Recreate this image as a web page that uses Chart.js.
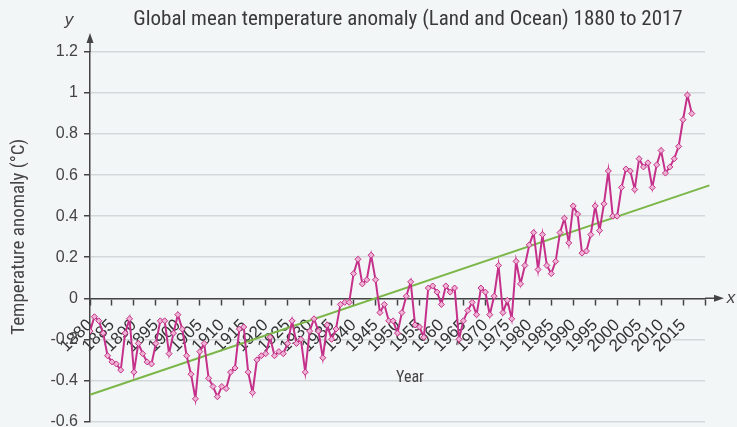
<!DOCTYPE html>
<html><head><meta charset="utf-8">
<script src="https://cdn.jsdelivr.net/npm/chart.js@4.4.1/dist/chart.umd.min.js"></script>
<style>html,body{margin:0;padding:0;background:#f3f6f7;overflow:hidden;}#wrap{width:737px;height:427px;position:relative;overflow:hidden}</style>
</head><body><div id="wrap"><canvas id="c" width="737" height="437"></canvas></div>
<script>
const titleText = 'Global mean temperature anomaly (Land and Ocean) 1880 to 2017';
const yAxisTitle = 'Temperature anomaly (°C)';
const xAxisTitle = 'Year';
const years = [];
for (let y = 1880; y <= 2017; y++) years.push(y);
const anomaly = [
 -0.16,-0.09,-0.11,-0.17,-0.28,-0.31,-0.32,-0.35,-0.17,-0.10,
 -0.36,-0.22,-0.27,-0.31,-0.32,-0.22,-0.11,-0.11,-0.27,-0.17,
 -0.08,-0.15,-0.28,-0.37,-0.49,-0.26,-0.22,-0.39,-0.43,-0.48,
 -0.43,-0.44,-0.36,-0.34,-0.15,-0.14,-0.36,-0.46,-0.30,-0.28,
 -0.27,-0.19,-0.28,-0.26,-0.27,-0.22,-0.11,-0.22,-0.20,-0.36,
 -0.16,-0.10,-0.16,-0.29,-0.13,-0.20,-0.15,-0.03,-0.02,-0.02,
  0.12, 0.19, 0.07, 0.09, 0.21, 0.09,-0.07,-0.03,-0.11,-0.11,
 -0.17,-0.07, 0.01, 0.08,-0.13,-0.14,-0.19, 0.05, 0.06, 0.03,
 -0.03, 0.06, 0.03, 0.05,-0.20,-0.11,-0.06,-0.02,-0.08, 0.05,
  0.03,-0.08, 0.01, 0.16,-0.07,-0.01,-0.10, 0.18, 0.07, 0.16,
  0.26, 0.32, 0.14, 0.31, 0.16, 0.12, 0.18, 0.32, 0.39, 0.27,
  0.45, 0.41, 0.22, 0.23, 0.31, 0.45, 0.33, 0.46, 0.62, 0.40,
  0.40, 0.54, 0.63, 0.62, 0.53, 0.68, 0.64, 0.66, 0.54, 0.65,
  0.72, 0.61, 0.64, 0.68, 0.74, 0.87, 0.99, 0.90
];
const trendYears = [1880, 2021];
const trendValues = [-0.47, 0.55];

const FONT = "'Liberation Sans Narrow','Roboto Condensed','DejaVu Sans Condensed','Liberation Sans',sans-serif";
const TICKFONT = "'Liberation Sans Narrow','Liberation Sans','Roboto',sans-serif";

const bgPlugin = {
  id: 'bg',
  beforeDraw(chart) {
    const ctx = chart.ctx;
    ctx.save();
    ctx.fillStyle = '#f3f6f7';
    ctx.fillRect(0, 0, chart.width, chart.height);
    ctx.restore();
  },
  beforeDatasetsDraw(chart) {
    const ctx = chart.ctx;
    ctx.save();
    ctx.fillStyle = '#444';
    ctx.font = "16px " + FONT;
    ctx.textAlign = 'center';
    ctx.textBaseline = 'middle';
    ctx.fillText(xAxisTitle, 410, 378);
    ctx.restore();
  },
  afterDraw(chart) {
    const ctx = chart.ctx;
    const a = chart.chartArea;
    const y0 = chart.scales.y.getPixelForValue(0);
    ctx.save();
    ctx.strokeStyle = '#444';
    ctx.fillStyle = '#444';
    ctx.lineWidth = 1.5;
    // y arrow
    ctx.beginPath();
    ctx.moveTo(a.left, a.top);
    ctx.lineTo(a.left, a.top - 12);
    ctx.stroke();
    ctx.beginPath();
    ctx.moveTo(a.left, a.top - 19);
    ctx.lineTo(a.left - 3.5, a.top - 9);
    ctx.lineTo(a.left + 3.5, a.top - 9);
    ctx.closePath();
    ctx.fill();
    // x arrow
    ctx.beginPath();
    ctx.moveTo(a.right, y0);
    ctx.lineTo(a.right + 12, y0);
    ctx.stroke();
    ctx.beginPath();
    ctx.moveTo(a.right + 19, y0);
    ctx.lineTo(a.right + 9, y0 - 3.5);
    ctx.lineTo(a.right + 9, y0 + 3.5);
    ctx.closePath();
    ctx.fill();
    // axis letters
    ctx.font = "italic 17px 'Liberation Sans', sans-serif";
    ctx.textAlign = 'center';
    ctx.textBaseline = 'middle';
    ctx.fillText('y', 69, 20);
    ctx.fillText('x', 731, y0);
    // title
    ctx.fillStyle = '#3a3a3a';
    ctx.font = "21px " + FONT;
    ctx.fillText(titleText, 408, 20);
    ctx.restore();
  }
};

new Chart(document.getElementById('c'), {
  type: 'line',
  data: {
    datasets: [
      {
        label: 'Anomaly',
        data: years.map((yr, i) => ({x: yr, y: anomaly[i]})),
        borderColor: '#c5308a',
        borderWidth: 2,
        pointStyle: 'rectRot',
        pointRadius: 3,
        pointBackgroundColor: '#eeb3d3',
        pointBorderColor: '#c5308a',
        pointBorderWidth: 1,
        tension: 0,
        order: 0
      },
      {
        label: 'Trend',
        data: trendYears.map((yr, i) => ({x: yr, y: trendValues[i]})),
        borderColor: '#7ab648',
        borderWidth: 2,
        pointRadius: 0,
        clip: false,
        order: 1
      }
    ]
  },
  options: {
    responsive: false,
    animation: false,
    devicePixelRatio: 1,
    layout: { padding: { left: 0, right: 32, top: 52, bottom: 6 }, autoPadding: false },
    plugins: { legend: { display: false }, tooltip: { enabled: false }, title: { display: false } },
    scales: {
      x: {
        type: 'linear',
        min: 1880, max: 2020,
        position: { y: 0 },
        ticks: {
          stepSize: 5, autoSkip: false, minRotation: 45, maxRotation: 45,
          callback: v => v >= 2020 ? '' : String(v),
          font: { size: 17, family: TICKFONT }, color: '#333', padding: 11
        },
        grid: { drawOnChartArea: false, drawTicks: true, tickLength: 6, tickColor: '#444', tickWidth: 1.5 },
        border: { color: '#444', width: 1.5 },
        title: { display: false, text: xAxisTitle }
      },
      y: {
        type: 'linear',
        position: 'left',
        min: -0.6, max: 1.2,
        ticks: {
          stepSize: 0.2,
          callback: v => String(parseFloat(Number(v).toFixed(1))),
          font: { size: 16, family: TICKFONT }, color: '#444', padding: 6
        },
        grid: { color: '#d3d8da', lineWidth: 1.5, tickColor: '#444', tickLength: 6, drawTicks: true },
        border: { color: '#444', width: 1.5 },
        title: { display: true, text: yAxisTitle, font: { size: 19, family: FONT }, color: '#444', padding: { top: 8, bottom: 0 } },
        afterFit: s => { s.width = 90; }
      }
    }
  },
  plugins: [bgPlugin]
});
</script>
</body></html>
